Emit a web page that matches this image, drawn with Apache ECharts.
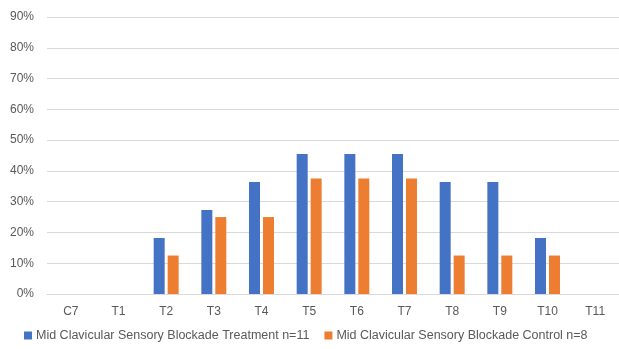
<!DOCTYPE html>
<html>
<head>
<meta charset="utf-8">
<script src="https://cdn.jsdelivr.net/npm/echarts@6/dist/echarts.min.js"></script>
<style>
  html, body { margin: 0; padding: 0; background: #fff; }
  #chart { width: 619px; height: 349px; }
</style>
</head>
<body>
<div id="chart"></div>
<script>
// Dermatome levels along the x axis
const categories = ['C7', 'T1', 'T2', 'T3', 'T4', 'T5', 'T6', 'T7', 'T8', 'T9', 'T10', 'T11'];
// Share of patients with sensory blockade at each level (%)
const treatmentValues = [0, 0, 18.2, 27.3, 36.4, 45.5, 45.5, 45.5, 36.4, 36.4, 18.2, 0];
const controlValues   = [0, 0, 12.5, 25.0, 25.0, 37.5, 37.5, 37.5, 12.5, 12.5, 12.5, 0];
const seriesNames = [
  'Mid Clavicular Sensory Blockade Treatment n=11',
  'Mid Clavicular Sensory Blockade Control n=8'
];
const yTicks = { min: 0, max: 90, interval: 10 };

const font = '"Liberation Sans", "DejaVu Sans", sans-serif';
const textColor = '#595959';

const chart = echarts.init(document.getElementById('chart'), null, { renderer: 'canvas' });
chart.setOption({
  animation: false,
  backgroundColor: '#ffffff',
  textStyle: { fontFamily: font },
  grid: { left: 47, top: 17, width: 581, bottom: 55, containLabel: false },
  legend: {
    bottom: 2,
    left: 19,
    itemWidth: 8,
    itemHeight: 8,
    itemGap: 15,
    icon: 'rect',
    textStyle: { color: textColor, fontSize: 12.5, fontFamily: font, padding: [0, 0, 0, -1] },
    data: seriesNames
  },
  xAxis: {
    type: 'category',
    data: categories,
    axisLine: { lineStyle: { color: '#d9d9d9', width: 1 } },
    axisTick: { show: false },
    axisLabel: { color: textColor, fontSize: 12, margin: 12, fontFamily: font }
  },
  yAxis: {
    type: 'value',
    min: yTicks.min,
    max: yTicks.max,
    interval: yTicks.interval,
    axisLine: { show: false },
    axisTick: { show: false },
    splitLine: { lineStyle: { color: '#d9d9d9', width: 1 } },
    axisLabel: { color: textColor, fontSize: 12, margin: 13, fontFamily: font, formatter: '{value}%' }
  },
  series: [
    {
      name: seriesNames[0],
      type: 'bar',
      data: treatmentValues,
      barWidth: 11,
      barGap: '27%',
      itemStyle: { color: '#4472C4' }
    },
    {
      name: seriesNames[1],
      type: 'bar',
      data: controlValues,
      barWidth: 11,
      barGap: '27%',
      itemStyle: { color: '#ED7D31' }
    }
  ]
});
</script>
</body>
</html>
